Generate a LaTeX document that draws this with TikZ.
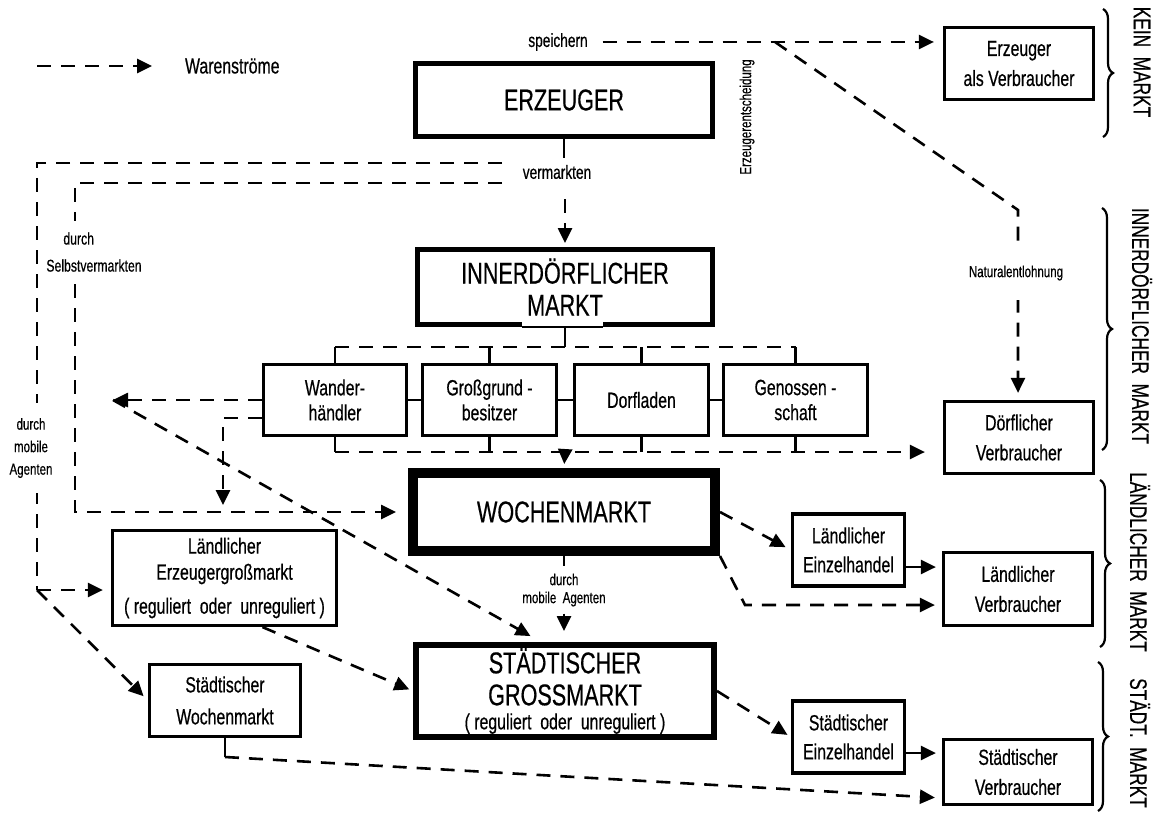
\documentclass[tikz,border=0pt]{standalone}
\usepackage{fontspec}
\setmainfont{Liberation Sans}[FakeStretch=0.72, FakeBold=0.5]
\usetikzlibrary{arrows.meta,decorations.pathreplacing}

\newcommand\boxtxt{\fontsize{11}{15}\selectfont}
\newcommand\bigtxt{\fontsize{15}{16}\selectfont}
\newcommand\smalltxt{\fontsize{9.5}{12}\selectfont}
\newcommand\tinytxt{\fontsize{8}{11.25}\selectfont}
\newcommand\sidetxt{\fontsize{12}{14}\selectfont}

\begin{document}
\begin{tikzpicture}[x=0.5pt, y=-0.5pt,
  box/.style={draw, line width=1.6pt, inner sep=0pt, align=center, font=\boxtxt, minimum width=74.5pt, minimum height=36pt},
  dashline/.style={dash pattern=on 7pt off 5pt, line width=1.3pt},
  flow/.style={dashline, -{Triangle[length=7.5pt,width=7pt]}},
  stub/.style={line width=1.3pt},
  arrowline/.style={line width=1.3pt, -{Triangle[length=7.5pt,width=7pt]}},
  side/.style={font=\sidetxt, rotate=-90},
  brc/.style={decorate, decoration={brace, amplitude=5pt}, line width=1.1pt},
  note/.style={font=\tinytxt, fill=white, inner sep=1pt, align=center}
]
\useasboundingbox (0,0) rectangle (1162,813);

% legende
\coordinate (leg0) at (37,66);
\coordinate (leg1) at (152,66);
\node[font=\boxtxt, anchor=west] (legtxt) at (178,66) {Warenströme};

% kaesten
\node[box, line width=2.5pt, font=\bigtxt, minimum width=148.5pt, minimum height=36.5pt] (erz) at (564,100) {ERZEUGER};
\node[box] (eav) at (1019,63.5) {Erzeuger\\als Verbraucher};
\node[box, line width=2.5pt, font=\bigtxt, minimum width=147.5pt, minimum height=37.5pt] (inner) at (565,287) {INNERDÖRFLICHER\\MARKT};
\node[box, font={\fontsize{11}{12.5}\selectfont}, minimum width=71.5pt, minimum height=35.5pt] (wander) at (335,400) {Wander-\\händler};
\node[box, font={\fontsize{11}{12.5}\selectfont}, minimum width=67pt, minimum height=35.5pt] (gross) at (489.5,400) {Großgrund -\\besitzer};
\node[box, minimum width=67pt, minimum height=35.5pt] (dorf) at (641.5,400) {Dorfladen};
\node[box, font={\fontsize{11}{12.5}\selectfont}, minimum width=72pt, minimum height=35.5pt] (genos) at (795.5,400) {Genossen -\\schaft};
\node[box] (doerfv) at (1019,437.5) {Dörflicher\\Verbraucher};
\node[box, line width=5pt, font=\bigtxt, minimum width=151pt, minimum height=39pt] (woch) at (564,512) {WOCHENMARKT};
\node[box, font={\fontsize{11}{13}\selectfont}, minimum width=112pt, minimum height=47.5pt] (lef) at (224.5,578) {Ländlicher\\Erzeugergroßmarkt\\[4pt]( reguliert~ oder~ unreguliert )};
\node[box, font={\fontsize{11}{14.5}\selectfont}, minimum width=56pt] (lein) at (848.5,550) {Ländlicher\\Einzelhandel};
\node[box, minimum height=36.5pt] (lver) at (1018,589) {Ländlicher\\Verbraucher};
\node[box, font={\fontsize{11}{16}\selectfont}, minimum width=75.5pt] (swm) at (225,700.5) {Städtischer\\Wochenmarkt};
\node[box, line width=3pt, font=\bigtxt, minimum width=149pt, minimum height=46pt] (sgm) at (565,691) {STÄDTISCHER\\GROSSMARKT\\[-4pt]{\boxtxt ( reguliert~ oder~ unreguliert )}};
\node[box, font={\fontsize{11}{14.5}\selectfont}, minimum width=56pt] (sein) at (848.5,737) {Städtischer\\Einzelhandel};
\node[box, minimum height=32.5pt] (sver) at (1018,772) {Städtischer\\Verbraucher};

% innerdoerflicher markt, unterkante
\draw[white, line width=4pt] (522,325.5) -- (603,325.5);
\draw[line width=0.6pt] (522,327) -- (603,327);

% texte
\node[font=\smalltxt] (spei) at (558,42) {speichern};
\node[font=\smalltxt] (verm) at (557,172) {vermarkten};
\node[font=\tinytxt, rotate=90] (entsch) at (747,117) {Erzeugerentscheidung};
\node[font={\fontsize{8}{9}\selectfont}, align=center] (magent) at (564,590) {durch\\mobile~ Agenten};

\node[side] (kein) at (1142,62) {KEIN~~MARKT};
\node[side] (innerm) at (1142,326) {INNERDÖRFLICHER~~MARKT};
\node[side] (laendm) at (1140,562) {LÄNDLICHER~~MARKT};
\node[side] (staedtm) at (1140,743) {STÄDT.~~MARKT};

\draw[brc] (1103,9) -- (1103,137);
\draw[brc] (1102,208) -- (1102,450);
\draw[brc] (1100,480) -- (1100,647);
\draw[brc] (1098,662) -- (1098,811);

% hilfspunkte
\coordinate (sp1) at (775,42);
\coordinate (sp2) at (1018,210);
\coordinate (o1) at (502,163);
\coordinate (o2) at (37,590);
\coordinate (i1) at (502,183);
\coordinate (i2) at (75,512);
\coordinate (tb) at (565,347);
\coordinate (bb) at (565,452);
\coordinate (wl) at (113,400);
\coordinate (wd) at (223,505);
\coordinate (wk) at (745,605);
\coordinate (sw1) at (225,757);

\draw[flow] (leg0) -- (leg1);

% speichern
\draw[flow, shorten <=4pt, shorten >=4.5pt] (spei.east) -- (spei.east -| eav.west);
\draw[flow, shorten >=3.5pt] (sp1) -- (sp2) -- (sp2 |- doerfv.north);

% vermarkten
\draw[stub] (erz.south) -- (erz.south |- verm.north);
\draw[flow, shorten <=6.5pt, shorten >=2pt] (verm.south -| inner.north) -- (inner.north);
\draw[dashline] (o1) -| (o2);
\draw[flow, shorten >=4pt] (o2) -- (o2 -| lef.west);
\draw[flow, shorten >=3pt] (o2) -- (swm.west);
\draw[flow, shorten >=6pt] (i1) -| (i2) -- (woch.west);

% innerdoerflicher markt
\draw[stub] (inner.south) -- (tb);
\draw[dashline] (wander.north |- tb) -- (genos.north |- tb);
\foreach \n in {wander,gross,dorf,genos} {
  \draw[stub] (\n.north) -- (\n.north |- tb);
  \draw[stub] (\n.south) -- (\n.south |- bb);
}
\draw[stub] (wander) -- (gross);
\draw[stub] (gross) -- (dorf);
\draw[stub] (dorf) -- (genos);
\draw[flow, shorten >=9pt] (wander.south |- bb) -- (doerfv.west |- bb);
\draw[arrowline, shorten >=2pt] (bb) -- (woch.north);

% wanderhaendler
\draw[flow] (wander.west) -- (wl);
\draw[flow, shorten >=6pt] (wl) -- ([xshift=-12pt]sgm.north);
\draw[flow] ([yshift=-9pt]wander.west) -| (wd);

% wochenmarkt
\draw[stub] (woch.south) -- (magent.north);
\draw[arrowline, shorten >=5.5pt] (magent.south) -- (magent.south |- sgm.north);
\draw[flow, shorten >=3pt] (woch.east) -- (lein.west);
\draw[flow, shorten >=3.5pt] (woch.south east) -- (wk) -- (wk -| lver.west);
\draw[arrowline, shorten >=3pt] ([yshift=-8.5pt]lein.east) -- ([yshift=-8.5pt]lein.east -| lver.west);

% staedtischer markt
\draw[flow, shorten >=2pt] ([xshift=19pt]lef.south) -- (sgm.west);
\draw[flow, shorten >=2pt] (sgm.east) -- (sein.west);
\draw[arrowline, shorten >=3pt] ([yshift=-8pt]sein.east) -- ([yshift=-8pt]sein.east -| sver.west);
\draw[stub] (swm.south) -- (sw1);
\draw[flow, shorten >=3.5pt] (sw1) -- ([yshift=-13pt]sver.west);

% beschriftungen auf den linien
\node[note, minimum height=27pt] (natur) at (1016,273) {Naturalentlohnung};
\node[note, font={\fontsize{8.5}{13.5}\selectfont}, align=left, anchor=west, minimum height=31pt] (selbst) at (44,252) {\hspace{8.5pt}durch\\Selbstvermarkten};
\node[note, minimum height=45pt] (mobil) at (31,448) {durch\\mobile\\Agenten};

\end{tikzpicture}
\end{document}
